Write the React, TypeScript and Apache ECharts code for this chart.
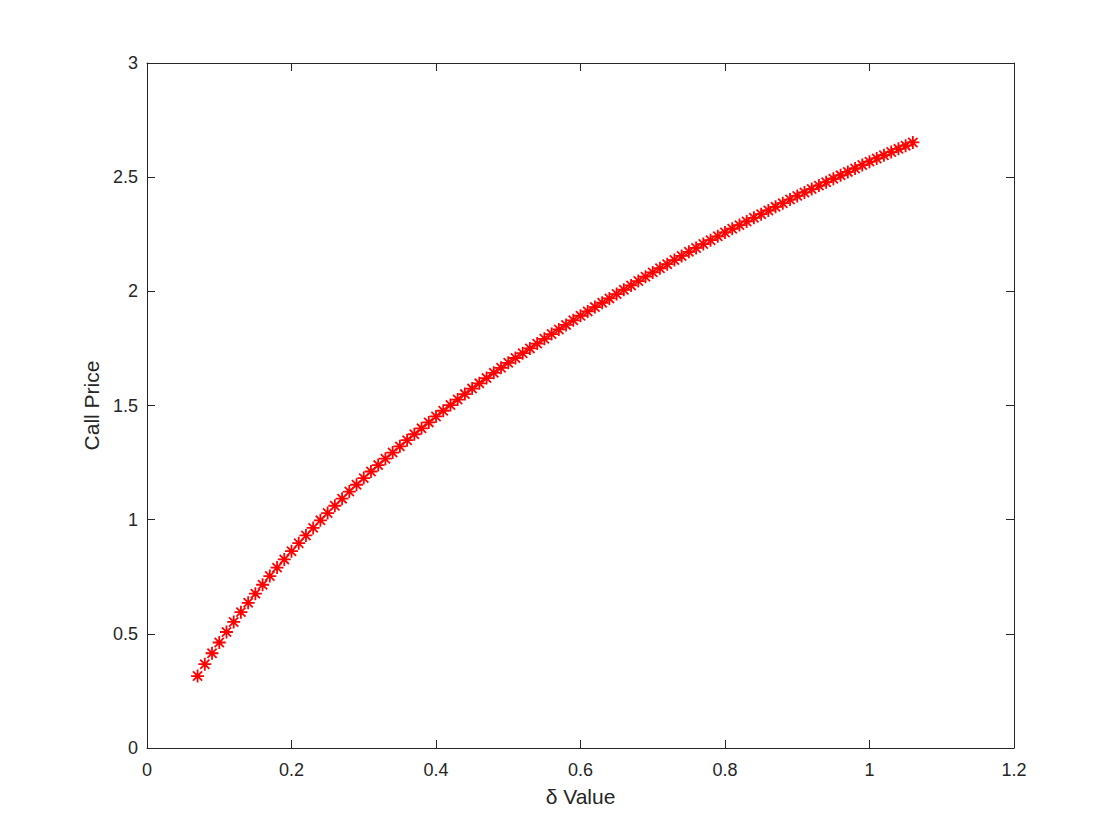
import React, { useEffect, useRef } from "react";
import * as echarts from "echarts";

const deltaValues: number[] = [
  0.07, 0.08, 0.09, 0.1, 0.11, 0.12, 0.13, 0.14, 0.15, 0.16, 0.17, 0.18, 0.19, 0.2,
  0.21, 0.22, 0.23, 0.24, 0.25, 0.26, 0.27, 0.28, 0.29, 0.3,
  0.31, 0.32, 0.33, 0.34, 0.35, 0.36, 0.37, 0.38, 0.39, 0.4,
  0.41, 0.42, 0.43, 0.44, 0.45, 0.46, 0.47, 0.48, 0.49, 0.5,
  0.51, 0.52, 0.53, 0.54, 0.55, 0.56, 0.57, 0.58, 0.59, 0.6,
  0.61, 0.62, 0.63, 0.64, 0.65, 0.66, 0.67, 0.68, 0.69, 0.7,
  0.71, 0.72, 0.73, 0.74, 0.75, 0.76, 0.77, 0.78, 0.79, 0.8,
  0.81, 0.82, 0.83, 0.84, 0.85, 0.86, 0.87, 0.88, 0.89, 0.9,
  0.91, 0.92, 0.93, 0.94, 0.95, 0.96, 0.97, 0.98, 0.99, 1.0,
  1.01, 1.02, 1.03, 1.04, 1.05, 1.06,
];

const callPrices: number[] = [
  0.315, 0.367, 0.415, 0.462, 0.508, 0.552, 0.595, 0.636, 0.676, 0.715, 0.753, 0.79, 0.826, 0.862,
  0.897, 0.931, 0.964, 0.997, 1.029, 1.061, 1.092, 1.123, 1.153, 1.182,
  1.211, 1.239, 1.267, 1.294, 1.321, 1.348, 1.374, 1.4, 1.426, 1.452,
  1.477, 1.502, 1.526, 1.55, 1.574, 1.597, 1.62, 1.643, 1.665, 1.687,
  1.708, 1.729, 1.75, 1.771, 1.792, 1.813, 1.833, 1.853, 1.873, 1.893,
  1.912, 1.931, 1.95, 1.969, 1.988, 2.007, 2.026, 2.045, 2.064, 2.083,
  2.101, 2.119, 2.137, 2.155, 2.173, 2.19, 2.207, 2.224, 2.241, 2.258,
  2.274, 2.29, 2.306, 2.322, 2.338, 2.354, 2.37, 2.386, 2.402, 2.418,
  2.433, 2.448, 2.463, 2.478, 2.493, 2.508, 2.523, 2.538, 2.553, 2.568,
  2.582, 2.596, 2.61, 2.624, 2.638, 2.652,
];

const xTitle = "δ Value";
const yTitle = "Call Price";

const FONT = "'Liberation Sans', Arial, Helvetica, sans-serif";
const AXIS_COLOR = "#262626";
const ASTERISK =
  "path://M0,-6L0,6M-6,0L6,0M-4.24,-4.24L4.24,4.24M-4.24,4.24L4.24,-4.24";

export default function App() {
  const ref = useRef<HTMLDivElement>(null);

  useEffect(() => {
    if (!ref.current) return;
    const chart = echarts.init(ref.current, undefined, { renderer: "svg" });

    const axisLine = { show: true, onZero: false, lineStyle: { color: AXIS_COLOR, width: 1 } };
    const axisTick = { show: true, inside: true, length: 8, lineStyle: { color: AXIS_COLOR, width: 1 } };
    const axisLabel = { color: AXIS_COLOR, fontSize: 18, fontFamily: FONT };
    const nameStyle = { color: AXIS_COLOR, fontSize: 21, fontFamily: FONT };

    chart.setOption({
      animation: false,
      backgroundColor: "#ffffff",
      grid: { left: 147, right: 106, top: 63, bottom: 92, containLabel: false },
      xAxis: [
        {
          type: "value",
          position: "bottom",
          min: 0,
          max: 1.2,
          interval: 0.2,
          axisLine,
          axisTick,
          axisLabel: { ...axisLabel, margin: 13 },
          splitLine: { show: false },
          name: xTitle,
          nameLocation: "middle",
          nameGap: 38,
          nameTextStyle: nameStyle,
        },
        {
          type: "value",
          position: "top",
          min: 0,
          max: 1.2,
          interval: 0.2,
          axisLine,
          axisTick,
          axisLabel: { show: false },
          splitLine: { show: false },
        },
      ],
      yAxis: [
        {
          type: "value",
          position: "left",
          min: 0,
          max: 3,
          interval: 0.5,
          axisLine,
          axisTick,
          axisLabel: { ...axisLabel, margin: 9 },
          splitLine: { show: false },
          name: yTitle,
          nameLocation: "middle",
          nameRotate: 90,
          nameGap: 45,
          nameTextStyle: nameStyle,
        },
        {
          type: "value",
          position: "right",
          min: 0,
          max: 3,
          interval: 0.5,
          axisLine,
          axisTick,
          axisLabel: { show: false },
          splitLine: { show: false },
        },
      ],
      series: [
        {
          type: "scatter",
          xAxisIndex: 0,
          yAxisIndex: 0,
          data: deltaValues.map((d, i) => [d, callPrices[i]]),
          symbol: ASTERISK,
          symbolSize: 13,
          itemStyle: { color: "none", borderColor: "#ff0000", borderWidth: 1.8, opacity: 1 },
        },
      ],
    });

    return () => chart.dispose();
  }, []);

  return (
    <div
      ref={ref}
      style={{ position: "fixed", left: 0, top: 0, width: 1120, height: 840, background: "#fff" }}
    />
  );
}
